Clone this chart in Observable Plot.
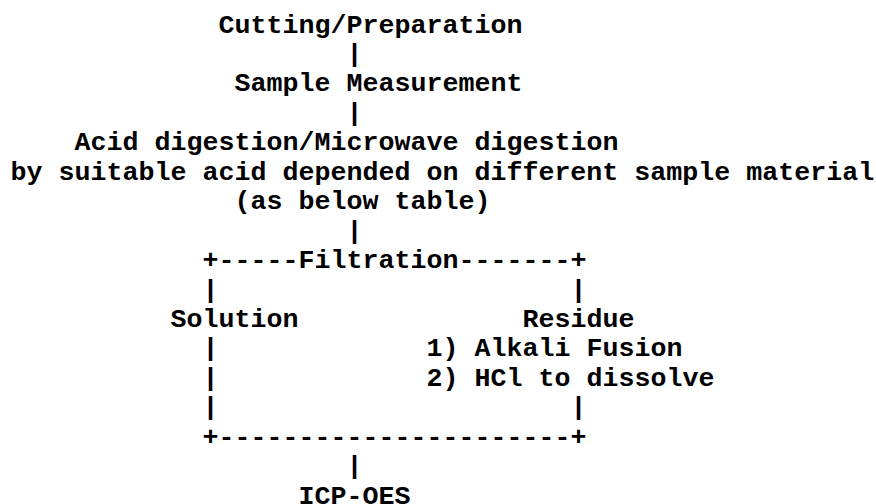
<!DOCTYPE html>
<html>
<head>
<meta charset="utf-8">
<script src="https://cdn.jsdelivr.net/npm/d3@7"></script>
<script src="https://cdn.jsdelivr.net/npm/@observablehq/plot@0.6"></script>
<style>
  html, body { margin: 0; padding: 0; background: #fff; }
</style>
</head>
<body>
<div id="chart"></div>
<script>
// ASCII flowchart: each segment is a text run at a (column, row) cell
const labels = [
  "Cutting/Preparation",
  "|",
  "Sample Measurement",
  "|",
  "Acid digestion/Microwave digestion",
  "by suitable acid depended on different sample material",
  "(as below table)",
  "|",
  "+-----Filtration-------+",
  "|", "|",
  "Solution", "Residue",
  "|", "1) Alkali Fusion",
  "|", "2) HCl to dissolve",
  "|", "|",
  "+----------------------+",
  "|",
  "ICP-OES"
];
const cols = [13, 21, 14, 21, 4, 0, 14, 21, 12, 12, 35, 10, 32, 12, 26, 12, 26, 12, 35, 12, 21, 18];
const rows = [0, 1, 2, 3, 4, 5, 6, 7, 8, 9, 9, 10, 10, 11, 11, 12, 12, 13, 13, 14, 15, 16];

const data = labels.map((t, i) => ({text: t, col: cols[i], row: rows[i]}));

const W = 876, H = 504;
const charW = 16, x0 = 10;          // px per monospace cell, left offset
const rowH = 29.44, y0 = 23.5;      // px per row, centre of row 0

const chart = Plot.plot({
  width: W,
  height: H,
  margin: 0,
  x: {axis: null, domain: [-x0 / charW, (W - x0) / charW], range: [0, W]},
  y: {axis: null, domain: [-y0 / rowH, (H - y0) / rowH], range: [0, H]},
  style: {background: "#fff"},
  marks: [
    Plot.text(data, {
      x: "col",
      y: "row",
      text: "text",
      textAnchor: "start",
      fontFamily: "'Liberation Mono', 'Courier New', monospace",
      fontWeight: "bold",
      fontSize: 26.67,
      fill: "#000"
    })
  ]
});
document.getElementById("chart").appendChild(chart);
</script>
</body>
</html>
